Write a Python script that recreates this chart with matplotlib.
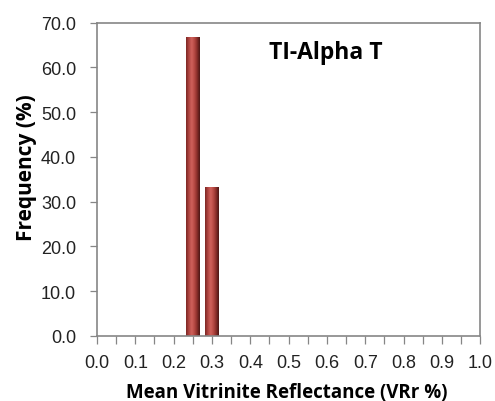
import numpy as np
import matplotlib
matplotlib.use("Agg")
import matplotlib.pyplot as plt
from matplotlib.colors import LinearSegmentedColormap

# data
vrr = [0.25, 0.30]
freq = [66.7, 33.3]
xticks = [round(0.1 * i, 1) for i in range(11)]
yticks = [0, 10, 20, 30, 40, 50, 60, 70]
title = "TI-Alpha T"

fig = plt.figure(figsize=(4.95, 4.02), dpi=100)
ax = fig.add_axes([0.196, 0.162, 0.774, 0.779])

bars = ax.bar(vrr, freq, width=0.034, color="#a8403c", edgecolor="#5a1c1a",
              linewidth=0.6, zorder=2)

# cylinder-like shading inside each bar
cmap = LinearSegmentedColormap.from_list(
    "cyl", ["#7a2623", "#b0443f", "#d0625c", "#b84a44", "#8a2e2a", "#4a1614"])
grad = np.linspace(0, 1, 64).reshape(1, -1)
for b in bars:
    x0, w, h = b.get_x(), b.get_width(), b.get_height()
    im = ax.imshow(grad, cmap=cmap, aspect="auto", extent=(x0, x0 + w, 0, h),
                   zorder=2.5, interpolation="bicubic")
    im.set_clip_path(b)

ax.set_xlim(0, 1.0)
ax.set_ylim(0, 70)
ax.set_xticks(xticks)
ax.set_xticks(np.arange(0.05, 1.0, 0.1), minor=True)
ax.set_xticklabels([f"{t:.1f}" for t in xticks])
ax.set_yticks(yticks)
ax.set_yticklabels([f"{t:.1f}" for t in yticks])

for s in ax.spines.values():
    s.set_color("#868686")
    s.set_linewidth(1.2)
ax.tick_params(axis="both", which="both", direction="out", color="#868686",
               width=0.9)
ax.tick_params(axis="x", which="both", length=6, pad=7)
ax.tick_params(axis="y", length=5, pad=10)
ax.tick_params(axis="both", labelsize=13, labelcolor="#222222")
for lab in ax.get_xticklabels() + ax.get_yticklabels():
    lab.set_family("Liberation Sans")

ax.set_xlabel("Mean Vitrinite Reflectance (VRr %)", fontsize=13.5, fontweight="bold",
              family="Open Sans")
ax.set_ylabel("Frequency (%)", fontsize=15, fontweight="bold", family="Open Sans")
ax.xaxis.set_label_coords(0.495, -0.148)
ax.yaxis.set_label_coords(-0.157, 0.54)
ax.text(0.598, 0.905, title, transform=ax.transAxes, fontsize=16.5,
        fontweight="bold", family="Open Sans", ha="center", va="center")

fig.savefig("out.png", dpi=100)
